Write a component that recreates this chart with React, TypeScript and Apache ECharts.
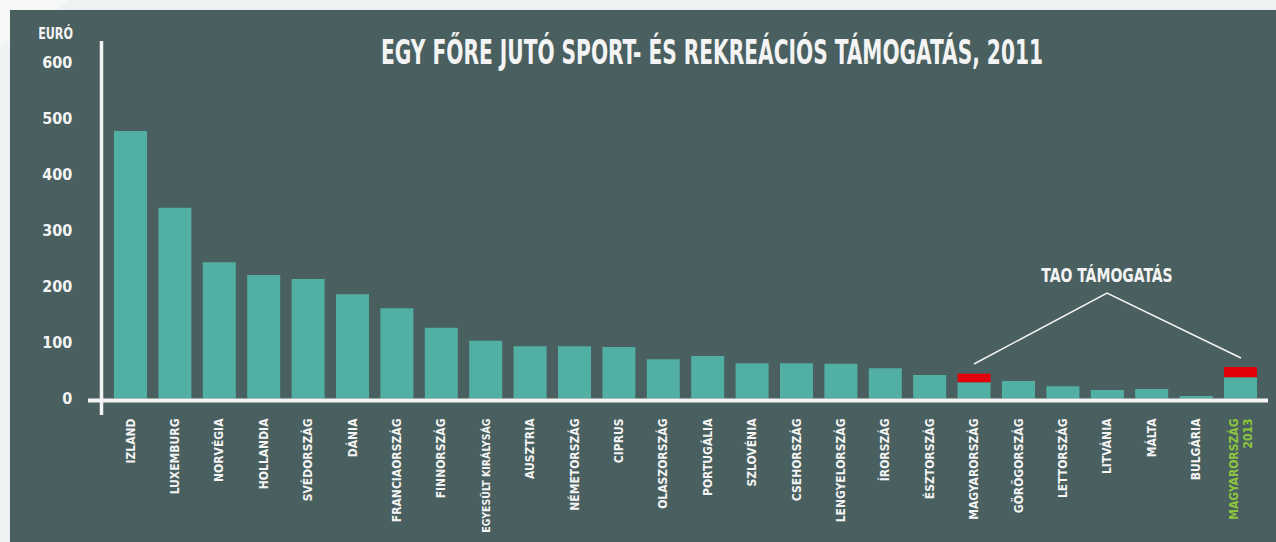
import React, { useEffect, useRef } from "react";
import * as echarts from "echarts";

const categories = [
  "IZLAND", "LUXEMBURG", "NORVÉGIA", "HOLLANDIA", "SVÉDORSZÁG", "DÁNIA",
  "FRANCIAORSZÁG", "FINNORSZÁG", "EGYESÜLT KIRÁLYSÁG", "AUSZTRIA",
  "NÉMETORSZÁG", "CIPRUS", "OLASZORSZÁG", "PORTUGÁLIA", "SZLOVÉNIA",
  "CSEHORSZÁG", "LENGYELORSZÁG", "ÍRORSZÁG", "ÉSZTORSZÁG", "MAGYARORSZÁG",
  "GÖRÖGORSZÁG", "LETTORSZÁG", "LITVÁNIA", "MÁLTA", "BULGÁRIA",
  "MAGYARORSZÁG\n2013",
];
const baseValues = [
  477, 340, 243, 220, 213, 186, 161, 126, 103, 93, 93, 92, 70, 76, 63, 63,
  62, 54, 42, 29, 31, 22, 15, 17, 4.5, 38,
];
const taoValues = [
  0, 0, 0, 0, 0, 0, 0, 0, 0, 0, 0, 0, 0, 0, 0, 0, 0, 0, 0, 15, 0, 0, 0, 0, 0, 18,
];
const yTicks = [0, 100, 200, 300, 400, 500, 600];

const FONT = "'Liberation Sans Narrow', 'DejaVu Sans Condensed', 'Roboto Condensed', sans-serif";
const PANEL = "#4a6060";
const TEAL = "#52afa3";
const RED = "#e2000b";
const GREEN = "#8cc63e";
const WHITE = "#f4f4f4";

export default function App() {
  const ref = useRef<HTMLDivElement>(null);
  useEffect(() => {
    if (!ref.current) return;
    const chart = echarts.init(ref.current, null, { renderer: "svg" });
    const lastIdx = categories.length - 1;
    chart.setOption({
      animation: false,
      backgroundColor: "#eef2f3",
      grid: {
        left: 108.3,
        right: 13.3,
        top: 62,
        bottom: 143.5,
        containLabel: false,
        outerBoundsMode: "none",
      },
      xAxis: {
        type: "category",
        data: categories.map((c, i) => {
          if (i === lastIdx) return { value: c, textStyle: { color: GREEN } };
          if (c.length > 15) return { value: c, textStyle: { fontSize: 10.5 } };
          return c;
        }),
        axisLine: { show: false },
        axisTick: { show: false },
        axisLabel: {
          rotate: 90,
          interval: 0,
          margin: 20,
          color: WHITE,
          fontFamily: FONT,
          fontWeight: "bold",
          fontSize: 12,
          lineHeight: 14,
        },
      },
      yAxis: {
        type: "value",
        min: yTicks[0],
        max: yTicks[yTicks.length - 1],
        interval: 100,
        splitLine: { show: false },
        axisLine: { show: false },
        axisTick: { show: false },
        axisLabel: {
          margin: 36,
          color: WHITE,
          fontFamily: FONT,
          fontWeight: "bold",
          fontSize: 16,
        },
      },
      series: [
        {
          type: "bar",
          stack: "total",
          data: baseValues,
          barWidth: 33,
          itemStyle: { color: TEAL },
          z: 3,
        },
        {
          type: "bar",
          stack: "total",
          data: taoValues,
          barWidth: 33,
          itemStyle: { color: RED },
          z: 3,
        },
      ],
      graphic: [
        {
          type: "polygon",
          z: -20,
          silent: true,
          shape: { points: [[0, 0], [70, 0], [0, 48]] },
          style: { fill: "#f6f8f8" },
        },
        {
          type: "rect",
          z: -10,
          silent: true,
          shape: { x: 10, y: 10, width: 1266, height: 532 },
          style: { fill: PANEL },
        },
        {
          type: "line",
          z: 10,
          silent: true,
          shape: { x1: 101.5, y1: 41, x2: 101.5, y2: 415 },
          style: { stroke: WHITE, lineWidth: 3.5 },
        },
        {
          type: "line",
          z: 10,
          silent: true,
          shape: { x1: 88, y1: 400.5, x2: 1268, y2: 400.5 },
          style: { stroke: WHITE, lineWidth: 4 },
        },
        {
          type: "text",
          z: 10,
          x: 73,
          y: 34,
          scaleX: 0.83,
          style: {
            text: "EURÓ",
            fill: WHITE,
            font: `bold 15px ${FONT}`,
            textAlign: "right",
            textVerticalAlign: "middle",
          },
        },
        {
          type: "text",
          z: 10,
          x: 712,
          y: 53,
          scaleX: 0.68,
          style: {
            text: "EGY FŐRE JUTÓ SPORT- ÉS REKREÁCIÓS TÁMOGATÁS, 2011",
            fill: WHITE,
            font: `bold 33px ${FONT}`,
            textAlign: "center",
            textVerticalAlign: "middle",
          },
        },
        {
          type: "text",
          z: 10,
          x: 1107,
          y: 275,
          scaleX: 0.82,
          style: {
            text: "TAO TÁMOGATÁS",
            fill: WHITE,
            font: `bold 19px ${FONT}`,
            textAlign: "center",
            textVerticalAlign: "middle",
          },
        },
        {
          type: "polyline",
          z: 10,
          silent: true,
          shape: { points: [[974, 364], [1107, 293], [1241, 358]] },
          style: { stroke: WHITE, lineWidth: 1.5, fill: "none" },
        },
      ],
    });
    return () => chart.dispose();
  }, []);
  return (
    <div
      ref={ref}
      style={{ position: "fixed", left: 0, top: 0, width: 1276, height: 542 }}
    />
  );
}
